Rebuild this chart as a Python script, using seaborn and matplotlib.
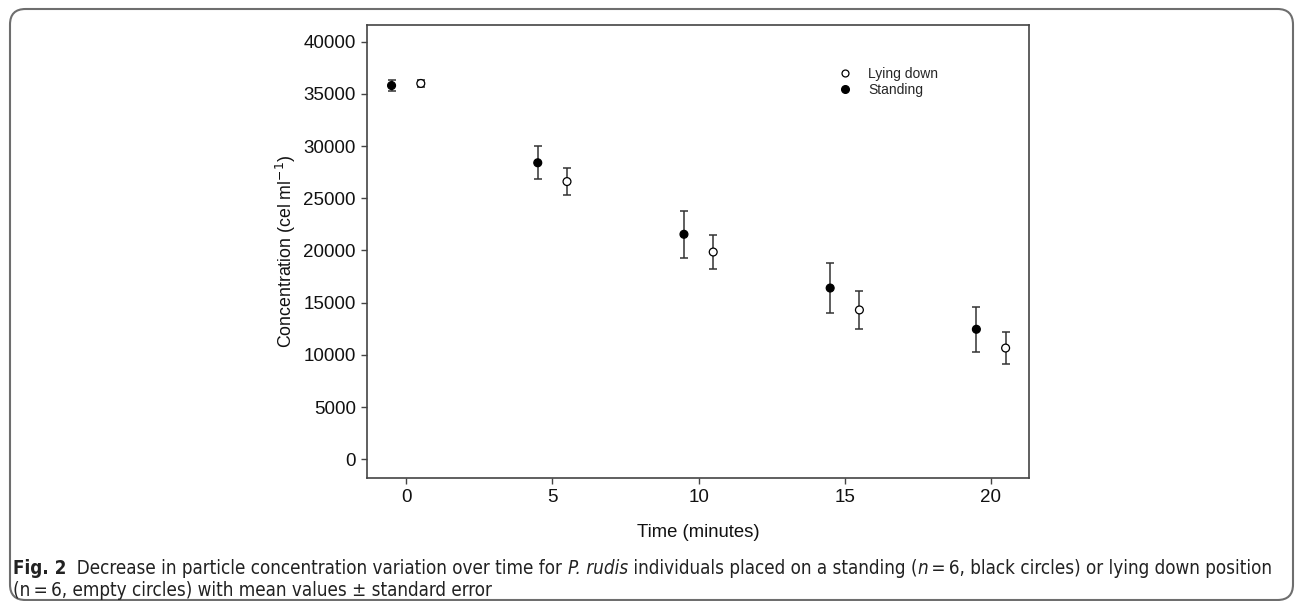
import pandas as pd
import matplotlib
matplotlib.use("Agg")
import matplotlib.pyplot as plt
import seaborn as sns
from matplotlib.lines import Line2D
from matplotlib.patches import FancyBboxPatch

# Mean concentration (cel/ml) and standard error
time_min = [0, 5, 10, 15, 20]
standing_mean = [35800, 28400, 21550, 16400, 12450]
standing_se = [550, 1600, 2250, 2400, 2150]
lying_mean = [36000, 26600, 19850, 14300, 10650]
lying_se = [330, 1280, 1600, 1800, 1550]
offsets = {'Standing': -0.5, 'Lying down': 0.5}
y_ticks = [0, 5000, 10000, 15000, 20000, 25000, 30000, 35000, 40000]
x_ticks = [0, 5, 10, 15, 20]

rows = []
for pos, means, ses in [('Standing', standing_mean, standing_se),
                        ('Lying down', lying_mean, lying_se)]:
    for t, m, s in zip(time_min, means, ses):
        rows.append({'Time': t + offsets[pos], 'Position': pos, 'Mean': m, 'SE': s})
df = pd.DataFrame(rows)

sns.set_style('ticks')
plt.rcParams['font.family'] = ['Liberation Sans', 'DejaVu Sans']

W, H = 1295, 601
fig = plt.figure(figsize=(W / 100, H / 100), dpi=100)
ax = fig.add_axes([367 / W, 1 - 478 / H, 662 / W, 453 / H])

ax.errorbar(df['Time'], df['Mean'], yerr=df['SE'], fmt='none',
            ecolor='#333333', elinewidth=1.1, capsize=2.8, capthick=1.1, zorder=2)
sns.scatterplot(data=df, x='Time', y='Mean', hue='Position',
                palette={'Standing': 'black', 'Lying down': 'white'},
                edgecolor='black', linewidth=0.9, s=32, legend=False, ax=ax, zorder=3)

ax.set_xlim(-1.34, 21.3)
ax.set_ylim(-1800, 41600)
ax.set_xticks(x_ticks)
ax.set_yticks(y_ticks)
ax.tick_params(direction='out', length=4, width=1, color='#444444',
               labelsize=13.5, labelcolor='#111111', pad=4)
for sp in ax.spines.values():
    sp.set_color('#444444')
    sp.set_linewidth(1.2)
ax.set_xlabel('Time (minutes)', fontsize=13.3, labelpad=13, color='#111111')
ax.set_ylabel('Concentration (cel ml$^{-1}$)', fontsize=12.8, labelpad=4, color='#111111')

handles = [Line2D([], [], marker='o', ls='none', mfc='white', mec='black', ms=5, mew=0.9),
           Line2D([], [], marker='o', ls='none', mfc='black', mec='black', ms=5.5)]
ax.legend(handles, ['Lying down', 'Standing'], loc='upper left',
          bbox_to_anchor=(0.692, 0.935), frameon=False, fontsize=10,
          handletextpad=1.2, labelspacing=0.15, handlelength=1)

# rounded frame around the whole figure panel
box = FancyBboxPatch((10 / W, 1 / H), 1283 / W, 591 / H,
                     boxstyle='round,pad=0,rounding_size=0.012',
                     transform=fig.transFigure, fill=False,
                     edgecolor='#6e6e6e', linewidth=1.5, mutation_aspect=W / H)
fig.patches.append(box)

# caption, drawn piece by piece so bold / italic parts sit inline
renderer = fig.canvas.get_renderer()
cap_kw = dict(fontsize=13.5, family='DejaVu Sans', fontstretch='condensed',
              va='center', color='#222222')


def caption_line(x, y, pieces):
    for txt, style in pieces:
        kw = dict(cap_kw)
        if style == 'b':
            kw['fontweight'] = 'bold'
        elif style == 'i':
            kw['fontstyle'] = 'italic'
        t = fig.text(x / W, 1 - y / H, txt, **kw)
        x = t.get_window_extent(renderer).x1
    return x


caption_line(13, 568, [('Fig. 2', 'b'), ('  Decrease in particle concentration variation over time for ', ''),
                       ('P. rudis', 'i'),
                       (' individuals placed on a standing (', ''), ('n', 'i'),
                       ('\u2009=\u20096, black circles) or lying down position', '')])
caption_line(13, 591, [('(n\u2009=\u20096, empty circles) with mean values \u00b1 standard error', '')])

fig.savefig('out.png', dpi=100)
